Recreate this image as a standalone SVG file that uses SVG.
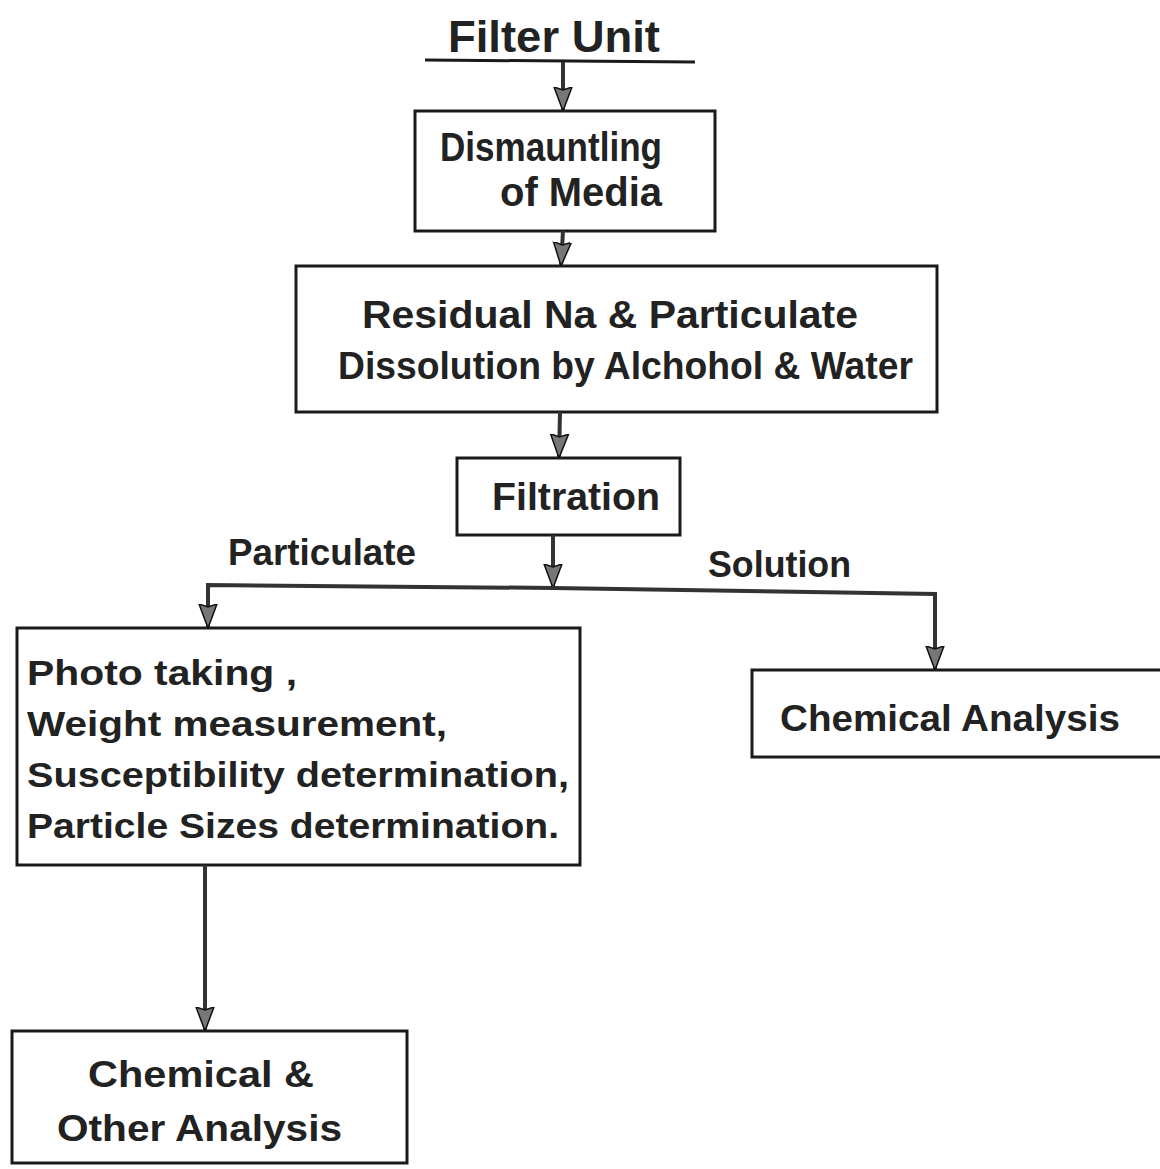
<svg xmlns="http://www.w3.org/2000/svg" width="1160" height="1169" viewBox="0 0 1160 1169">
<defs>
<style>
.box{fill:none;stroke:#1a1a1a;stroke-width:3}
.t{font-family:"Liberation Sans",Arial,sans-serif;font-weight:bold;fill:#222}
.c{fill:none;stroke:#333;stroke-width:4}
</style>
<marker id="ah" viewBox="0 0 24 20" refX="24" refY="10" markerWidth="24" markerHeight="20" markerUnits="userSpaceOnUse" orient="auto">
<path d="M0,1 L24,10 L0,19 L3,10 z" fill="#777" stroke="#111" stroke-width="1.5"/>
</marker>
</defs>
<rect width="1160" height="1169" fill="#fff"/>
<g id="filter-unit">
<text class="t" x="448" y="52" font-size="44" textLength="212" lengthAdjust="spacingAndGlyphs">Filter  Unit</text>
<line x1="425" y1="60" x2="695" y2="62" stroke="#1a1a1a" stroke-width="3"/>
</g>
<g id="dismantling">
<rect class="box" x="415" y="111" width="300" height="120"/>
<text class="t" x="440" y="161" font-size="40" textLength="222" lengthAdjust="spacingAndGlyphs">Dismauntling</text>
<text class="t" x="500" y="206" font-size="40" textLength="162" lengthAdjust="spacingAndGlyphs">of  Media</text>
</g>
<g id="dissolution">
<rect class="box" x="296" y="266" width="641" height="146"/>
<text class="t" x="362" y="328" font-size="38" textLength="496" lengthAdjust="spacingAndGlyphs">Residual  Na  &amp;  Particulate</text>
<text class="t" x="338" y="379" font-size="38" textLength="575" lengthAdjust="spacingAndGlyphs">Dissolution  by  Alchohol  &amp;  Water</text>
</g>
<g id="filtration">
<rect class="box" x="457" y="458" width="223" height="77"/>
<text class="t" x="492" y="510" font-size="38" textLength="168" lengthAdjust="spacingAndGlyphs">Filtration</text>
</g>
<g id="particulate-tests">
<rect class="box" x="17" y="628" width="563" height="237"/>
<text class="t" x="27" y="685" font-size="35" textLength="270" lengthAdjust="spacingAndGlyphs">Photo  taking ,</text>
<text class="t" x="27" y="736" font-size="35" textLength="420" lengthAdjust="spacingAndGlyphs">Weight  measurement,</text>
<text class="t" x="27" y="787" font-size="35" textLength="542" lengthAdjust="spacingAndGlyphs">Susceptibility  determination,</text>
<text class="t" x="27" y="838" font-size="35" textLength="532" lengthAdjust="spacingAndGlyphs">Particle  Sizes  determination.</text>
</g>
<g id="chemical-analysis">
<rect class="box" x="752" y="670" width="420" height="87"/>
<text class="t" x="780" y="731" font-size="37" textLength="340" lengthAdjust="spacingAndGlyphs">Chemical   Analysis</text>
</g>
<g id="other-analysis">
<rect class="box" x="12" y="1031" width="395" height="132"/>
<text class="t" x="88" y="1087" font-size="37" textLength="226" lengthAdjust="spacingAndGlyphs">Chemical  &amp;</text>
<text class="t" x="57" y="1141" font-size="37" textLength="285" lengthAdjust="spacingAndGlyphs">Other  Analysis</text>
</g>
<g id="connectors">
<line class="c" x1="563" y1="62" x2="563" y2="111" marker-end="url(#ah)"/>
<line class="c" x1="563" y1="231" x2="561" y2="266" marker-end="url(#ah)"/>
<line class="c" x1="560" y1="412" x2="559" y2="458" marker-end="url(#ah)"/>
<line class="c" x1="553" y1="535" x2="553" y2="588" marker-end="url(#ah)"/>
<path class="c" d="M553,588 L208,585 L208,628" marker-end="url(#ah)"/>
<path class="c" d="M553,588 L935,594 L935,670" marker-end="url(#ah)"/>
<line class="c" x1="205" y1="865" x2="205" y2="1031" marker-end="url(#ah)"/>
<text class="t" x="228" y="565" font-size="37" textLength="188" lengthAdjust="spacingAndGlyphs">Particulate</text>
<text class="t" x="708" y="577" font-size="37" textLength="143" lengthAdjust="spacingAndGlyphs">Solution</text>
</g>
</svg>
